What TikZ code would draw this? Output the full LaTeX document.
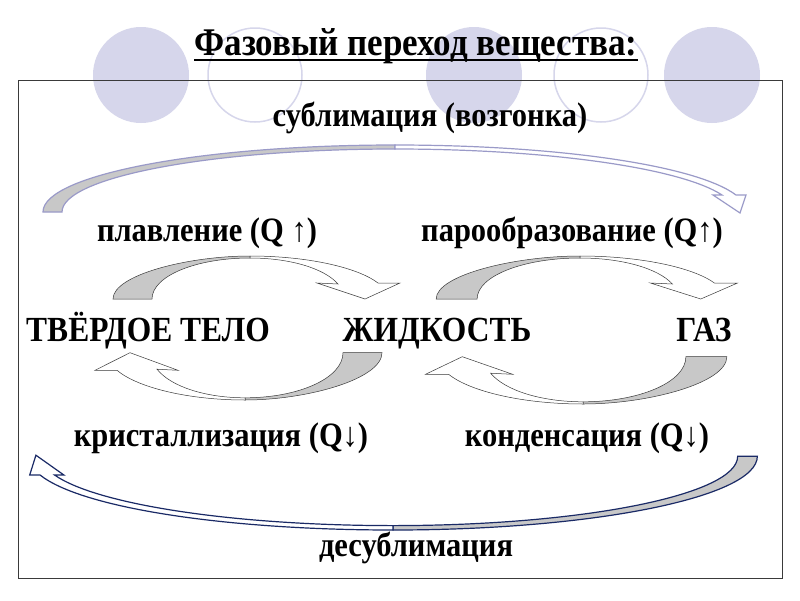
\documentclass[tikz,border=0pt]{standalone}
\usepackage{graphicx}
\usepackage{fontspec}
\setmainfont{Liberation Serif}
\usetikzlibrary{positioning}
\definecolor{lilac}{HTML}{D6D6EB}
\definecolor{lilacline}{HTML}{9A9AC8}
\definecolor{navy}{HTML}{1A2A66}
\definecolor{shade}{HTML}{C8C8C8}
\definecolor{ink}{HTML}{3A3A3A}
\newcommand{\tall}[1]{\scalebox{1}[1.12]{#1}}

\tikzset{
  lbl/.style={font=\bfseries\fontsize{30.5}{32}\selectfont,inner sep=0pt,anchor=base},
  phase/.style={font=\bfseries\fontsize{31.5}{33}\selectfont,inner sep=0pt,anchor=base},
  dot/.style={fill=lilac,draw=none},
  ring/.style={draw=lilac,line width=1.5pt},
  pics/bend/.style={code={
    \filldraw[fill=shade,draw=ink,line width=0.5pt] (-137,43) .. controls (-137,19) and (-62,0) .. (0,0) -- (0,2) .. controls (-54,2) and (-98,20) .. (-98,43) -- cycle;
    \filldraw[fill=white,draw=ink,line width=0.5pt] (0,0) .. controls (56,0) and (107,11) .. (128,27) -- (150,27) -- (115,43) -- (67,27) -- (88,28) .. controls (74,12) and (39,2) .. (0,2) -- cycle;
  }},
  pics/longbend/.style={code={
    \filldraw[fill=shade,draw=#1,line width=1.2pt] (-352,67) .. controls (-352,30) and (-194,0) .. (0,0) -- (0,4) .. controls (-183,4) and (-333,32) .. (-333,67) -- cycle;
    \filldraw[fill=white,draw=#1,line width=1.2pt] (0,0) .. controls (161,0) and (301,20) .. (341,50) -- (351,50) -- (345,68) -- (318,50) -- (327,50) .. controls (286,23) and (153,4) .. (0,4) -- cycle;
  }}
}

\begin{document}
\begin{tikzpicture}[x=1pt,y=-1pt]
\useasboundingbox[fill=white] (0,0) rectangle (800,600);
% circles behind the title
\fill[dot] (141,75) circle (48);
\draw[ring] (255,75) circle (47);
\fill[dot] (474,75) circle (48);
\draw[ring] (601,75) circle (47);
\fill[dot] (712,75) circle (48);
\draw[ink,line width=0.8pt] (18,80) rectangle (782,578);
\node[font=\bfseries\fontsize{35}{37}\selectfont,inner sep=0pt,anchor=base] (title) at (416,55) {\tall{Фазовый переход вещества:}};
\draw[line width=2.2pt] ([yshift=-5pt]title.base west) -- ([yshift=-5pt]title.base east);

% phases
\node[phase] (solid) at (148,341) {\tall{ТВЁРДОЕ ТЕЛО}};
\node[phase] (liquid) at (437,341) {\tall{ЖИДКОСТЬ}};
\node[phase] (gas) at (704,341) {\tall{ГАЗ}};

% transitions
\node[lbl] (subl) at (430,126) {\tall{сублимация (возгонка)}};
\node[lbl] (melt) at (207,241) {\tall{плавление (Q ↑)}};
\node[lbl] (vap) at (572,241) {\tall{парообразование (Q↑)}};
\node[lbl] (cryst) at (221,446) {\tall{кристаллизация (Q↓)}};
\node[lbl] (cond) at (587,446) {\tall{конденсация (Q↓)}};
\node[lbl] (desubl) at (416,556) {\tall{десублимация}};

\pic at (250,256) {bend};
\pic[xscale=1.05] at (580,256) {bend};
\pic[xscale=-1,yscale=-1.1] at (245,400) {bend};
\pic[xscale=-1.05,yscale=-1.1] at (583,404) {bend};
\pic at (395,145) {longbend=lilacline};
\pic[xscale=-1.035,yscale=-1.1] at (393,530) {longbend=navy};
\end{tikzpicture}
\end{document}
